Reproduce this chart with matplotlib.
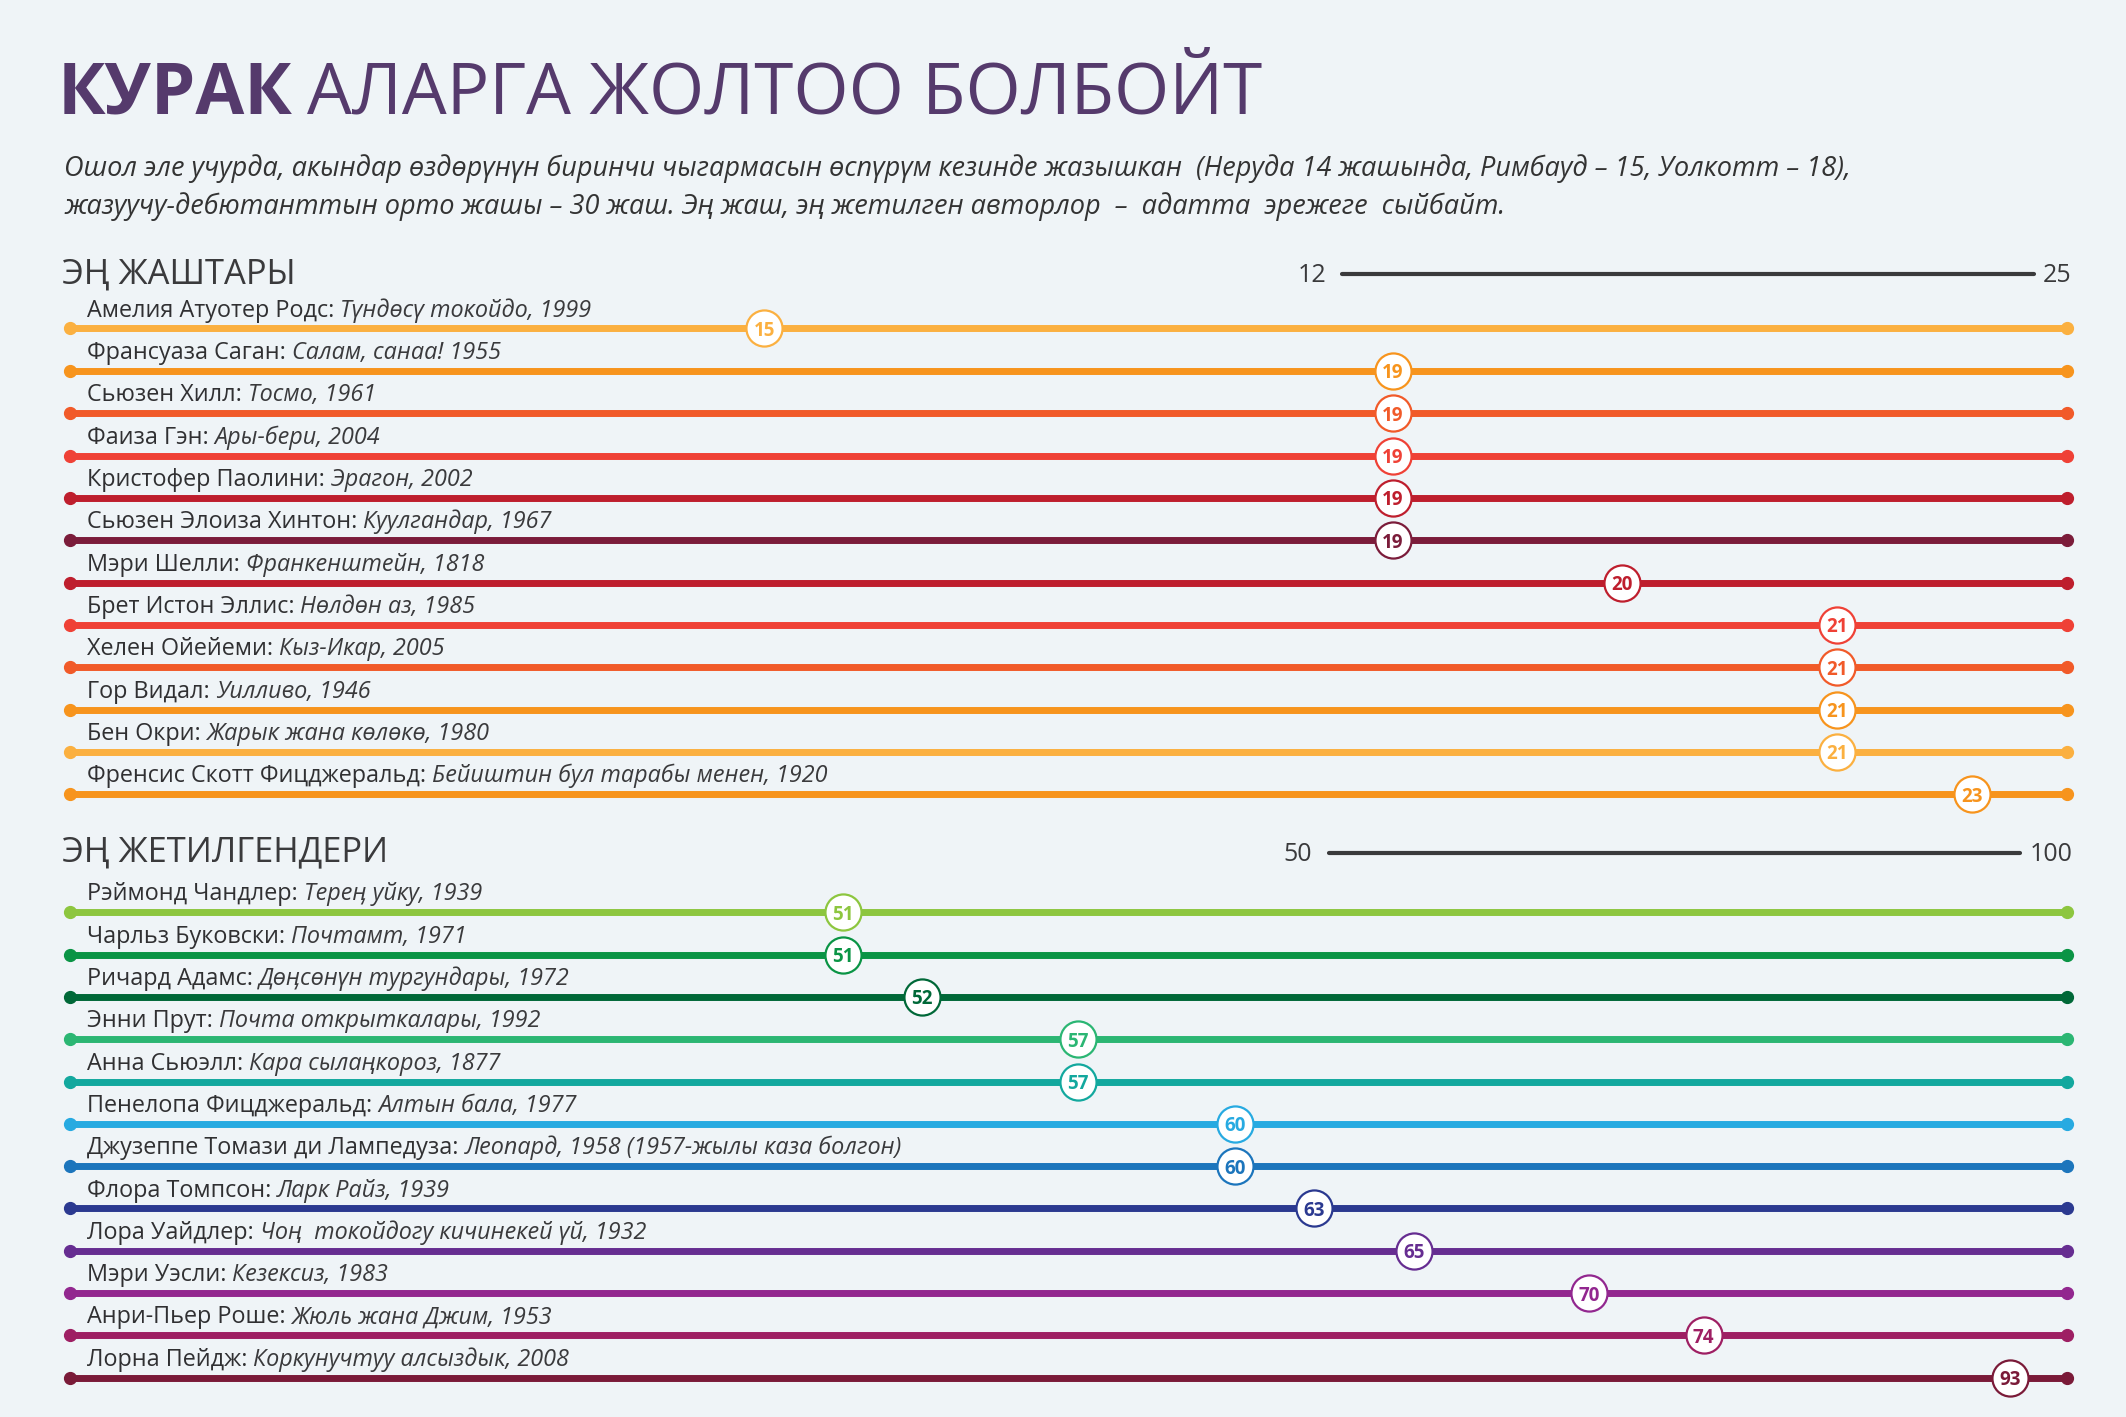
import numpy as np
import matplotlib
matplotlib.use('Agg')
import matplotlib.pyplot as plt
from matplotlib.lines import Line2D

plt.rcParams['font.family'] = ['Open Sans', 'DejaVu Sans']

BG = '#eff4f7'
TXT = '#3a3a3c'
TITLE_C = '#553a6c'

# --- эң жаштары ---
young_names = ['Амелия Атуотер Родс', 'Франсуаза Саган', 'Сьюзен Хилл', 'Фаиза Гэн',
               'Кристофер Паолини', 'Сьюзен Элоиза Хинтон', 'Мэри Шелли', 'Брет Истон Эллис',
               'Хелен Ойейеми', 'Гор Видал', 'Бен Окри', 'Френсис Скотт Фицджеральд']
young_books = ['Түндөсү токойдо, 1999', 'Салам, санаа! 1955', 'Тосмо, 1961', 'Ары-бери, 2004',
               'Эрагон, 2002', 'Куулгандар, 1967', 'Франкенштейн, 1818', 'Нөлдөн аз, 1985',
               'Кыз-Икар, 2005', 'Уилливо, 1946', 'Жарык жана көлөкө, 1980',
               'Бейиштин бул тарабы менен, 1920']
young_age = [15, 19, 19, 19, 19, 19, 20, 21, 21, 21, 21, 23]
# where the circle sits on the 12-25 scale
young_pos = [16.52, 20.61, 20.61, 20.61, 20.61, 20.61, 22.10, 23.50, 23.50, 23.50, 23.50, 24.38]
young_colors = ['#fbb040', '#f7941d', '#f15a29', '#ef4136', '#be1e2d', '#7b1c3a',
                '#be1e2d', '#ef4136', '#f15a29', '#f7941d', '#fbb040', '#f7941d']

# --- эң жетилгендери ---
old_names = ['Рэймонд Чандлер', 'Чарльз Буковски', 'Ричард Адамс', 'Энни Прут', 'Анна Сьюэлл',
             'Пенелопа Фицджеральд', 'Джузеппе Томази ди Лампедуза', 'Флора Томпсон',
             'Лора Уайдлер', 'Мэри Уэсли', 'Анри-Пьер Роше', 'Лорна Пейдж']
old_books = ['Тереӊ уйку, 1939', 'Почтамт, 1971', 'Дөӊсөнүн тургундары, 1972',
             'Почта открыткалары, 1992', 'Кара сылаңкороз, 1877', 'Алтын бала, 1977',
             'Леопард, 1958 (1957-жылы каза болгон)', 'Ларк Райз, 1939',
             'Чоң  токойдогу кичинекей үй, 1932', 'Кезексиз, 1983', 'Жюль жана Джим, 1953',
             'Коркунучтуу алсыздык, 2008']
old_age = [51, 51, 52, 57, 57, 60, 60, 63, 65, 70, 74, 93]
old_pos = [69.35, 69.35, 71.32, 75.24, 75.24, 79.17, 79.17, 81.15, 83.65, 88.03, 90.90, 98.57]
old_colors = ['#8dc63f', '#0a9445', '#006838', '#2bb673', '#13a89e', '#27aae1',
              '#1c75bc', '#2b3990', '#662d91', '#92278f', '#9e1f63', '#7a1a38']

W, H = 2126, 1417
fig = plt.figure(figsize=(W / 100, H / 100), dpi=100, facecolor=BG)


def fx(px):
    return px / W


def fy(px):
    return 1 - px / H


def section(top, bottom, names, books, ages, pos, colors, lo, hi):
    ax = fig.add_axes([fx(70), fy(bottom), fx(2067 - 70), (bottom - top) / H])
    ax.set_xlim(lo, hi)
    n = len(names)
    ax.set_ylim(n - 0.5, -0.5)
    ax.axis('off')
    tr = ax.get_yaxis_transform()
    for i in range(n):
        c = colors[i]
        ax.plot([lo, hi], [i, i], color=c, lw=5, solid_capstyle='butt', clip_on=False, zorder=1)
        ax.plot([lo, hi], [i, i], 'o', color=c, ms=8.5, clip_on=False, zorder=2)
        ax.scatter(pos[i], i, s=26 ** 2, facecolor='white', edgecolor=c, linewidth=1.6,
                   clip_on=False, zorder=3)
        ax.text(pos[i], i, str(ages[i]), ha='center', va='center_baseline', fontsize=13.5,
                fontweight='bold', color=c, zorder=4)
        t = ax.annotate(names[i] + ':', xy=(0.0085, i), xycoords=tr, xytext=(0, 8.6),
                        textcoords='offset points', fontsize=16.8,
                        color='#303032', va='baseline')
        ax.annotate(books[i], xy=(1, 0), xycoords=t, xytext=(4.2, 0), textcoords='offset points',
                    fontsize=16.8, style='italic', color=TXT, va='bottom', ha='left')
    return ax


section(307.3, 815.5, young_names, young_books, young_age, young_pos, young_colors, 12, 25)
section(891.2, 1398.8, old_names, old_books, old_age, old_pos, old_colors, 50, 100)

# title
t = fig.text(fx(58), fy(113), 'КУРАК', fontsize=51, fontweight='bold', color=TITLE_C,
             va='baseline')
fig.add_artist(plt.Annotation('АЛАРГА ЖОЛТОО БОЛБОЙТ', xy=(1, 0), xycoords=t, xytext=(10, 0),
                              textcoords='offset points', fontsize=51, color=TITLE_C,
                              va='bottom'))

sub1 = ('Ошол эле учурда, акындар өздөрүнүн биринчи чыгармасын өспүрүм кезинде жазышкан  '
        '(Неруда 14 жашында, Римбауд – 15, Уолкотт – 18),')
sub2 = 'жазуучу-дебютанттын орто жашы – 30 жаш. Эң жаш, эң жетилген авторлор  –  адатта  эрежеге  сыйбайт.'
fig.text(fx(64), fy(176), sub1, fontsize=19.55, style='italic', color='#333333', va='baseline')
fig.text(fx(64), fy(214), sub2, fontsize=19.55, style='italic', color='#333333', va='baseline')

# section headers and scales
fig.text(fx(62), fy(283), 'ЭҢ ЖАШТАРЫ', fontsize=24.8, color=TXT, va='baseline')
fig.text(fx(62), fy(861), 'ЭҢ ЖЕТИЛГЕНДЕРИ', fontsize=24.8, color=TXT, va='baseline')

fig.add_artist(Line2D([fx(1342), fx(2034)], [fy(274), fy(274)], color=TXT, lw=3,
                      solid_capstyle='round'))
fig.text(fx(1326), fy(282), '12', fontsize=18, color=TXT, ha='right', va='baseline')
fig.text(fx(2043), fy(282), '25', fontsize=18, color=TXT, ha='left', va='baseline')

fig.add_artist(Line2D([fx(1329), fx(2020)], [fy(853), fy(853)], color=TXT, lw=3,
                      solid_capstyle='round'))
fig.text(fx(1312), fy(861), '50', fontsize=18, color=TXT, ha='right', va='baseline')
fig.text(fx(2030), fy(861), '100', fontsize=18, color=TXT, ha='left', va='baseline')

fig.savefig('out.png', dpi=100, facecolor=BG)
